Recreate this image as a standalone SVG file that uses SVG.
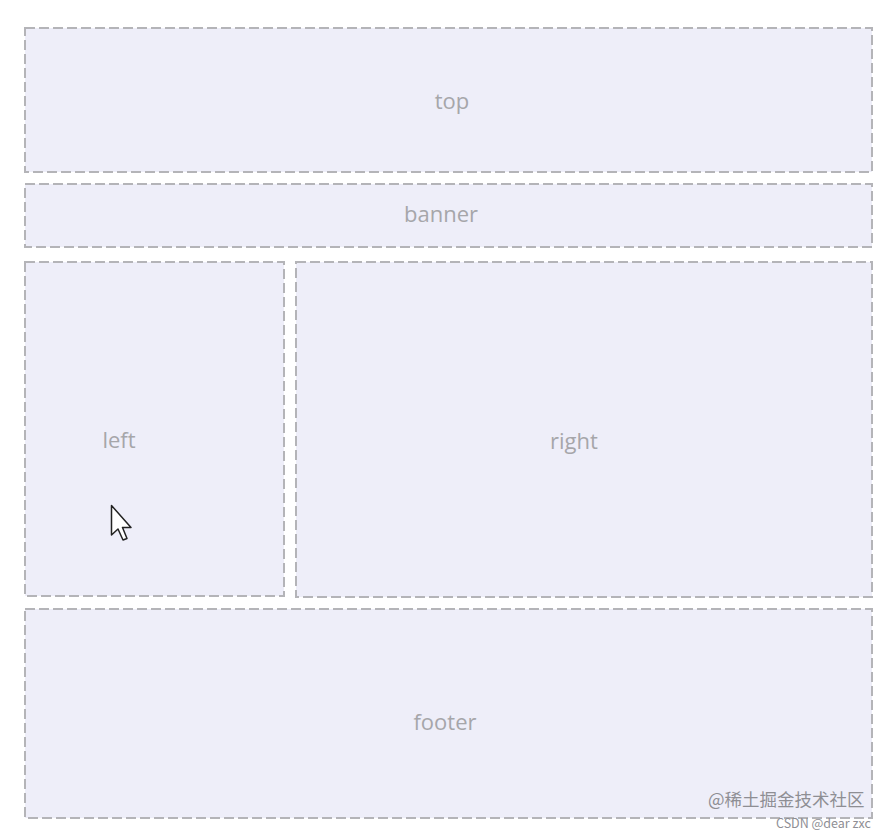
<svg xmlns="http://www.w3.org/2000/svg" width="892" height="836" viewBox="0 0 892 836">
<style>
.box{fill:#eeeef9;stroke:#b4b4b8;stroke-width:2;stroke-dasharray:10 4}
.lbl{font-family:"Segoe UI","Open Sans","Noto Sans",sans-serif;font-size:22px;fill:#a6a6aa;text-anchor:middle}
.wm{font-family:"Noto Sans CJK SC","Noto Sans",sans-serif;fill:#8e8e94}
</style>
<rect width="892" height="836" fill="#ffffff"/>
<g id="top"><rect class="box" x="25" y="28" width="847" height="144"/><text class="lbl" x="452" y="109">top</text></g>
<g id="banner"><rect class="box" x="25" y="184" width="847" height="63"/><text class="lbl" x="441" y="222">banner</text></g>
<g id="left"><rect class="box" x="25" y="262" width="259" height="334"/><text class="lbl" x="119" y="448">left</text></g>
<g id="right"><rect class="box" x="296" y="262" width="576" height="335"/><text class="lbl" x="574" y="449">right</text></g>
<g id="footer"><rect class="box" x="25" y="609" width="847" height="209"/><text class="lbl" x="445" y="730">footer</text></g>
<g id="connectors"></g>
<path d="M111.5 505.5 L111.5 535 L118 529 L123 540 L127 538.5 L122.5 527.5 L131 527.5 Z" fill="#ffffff" stroke="#222" stroke-width="1.5" stroke-linejoin="round"/>
<text class="wm" x="708" y="806" font-size="17.5">@稀土掘金技术社区</text>
<text class="wm" x="776" y="828" font-size="12.5" font-family="Liberation Sans,sans-serif">CSDN @dear zxc</text>
</svg>
